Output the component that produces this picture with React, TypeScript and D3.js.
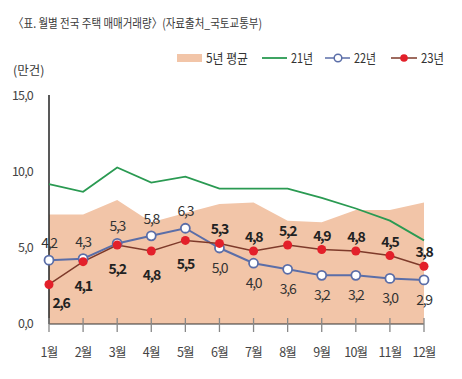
import React from "react";
import * as d3 from "d3";

const months = ["1월", "2월", "3월", "4월", "5월", "6월", "7월", "8월", "9월", "10월", "11월", "12월"];
const avg5 = [7.2, 7.2, 8.15, 6.7, 7.3, 7.9, 8.0, 6.8, 6.7, 7.5, 7.5, 8.0];
const y21 = [9.2, 8.7, 10.3, 9.3, 9.7, 8.9, 8.9, 8.9, 8.3, 7.6, 6.8, 5.5];
const y22 = [4.2, 4.3, 5.3, 5.8, 6.3, 5.0, 4.0, 3.6, 3.2, 3.2, 3.0, 2.9];
const y23 = [2.6, 4.1, 5.2, 4.8, 5.5, 5.3, 4.8, 5.2, 4.9, 4.8, 4.5, 3.8];
const yTicks = [0, 5, 10, 15];

const W = 462, H = 379;
const FONT = "'Noto Sans CJK KR', 'Noto Sans', sans-serif";
const C_AREA = "#f2c5a8";
const C_GREEN = "#2a9a52";
const C_BLUE = "#5b6ea8";
const C_RED = "#e3202a";
const C_BROWN = "#7e3a2a";

const fmt = (v: number) => v.toFixed(1).replace(".", ",");

export default function App() {
  const x = d3.scalePoint<string>().domain(months).range([49, 424]);
  const y = d3.scaleLinear().domain([0, 15]).range([324, 96]);
  const px = (i: number) => x(months[i]) as number;

  const area = d3.area<number>().x((_, i) => px(i)).y0(y(0)).y1((d) => y(d));
  const line = d3.line<number>().x((_, i) => px(i)).y((d) => y(d));

  return (
    <svg width={W} height={H} style={{ position: "absolute", left: 0, top: 0, background: "#fff" }} fontFamily={FONT}>
      <rect width={W} height={H} fill="#fff" />
      <text x={13} y={28} fontSize={12.5} fill="#3a3a3a" textLength={249} lengthAdjust="spacingAndGlyphs">
        〈표. 월별 전국 주택 매매거래량〉(자료출처_국토교통부)
      </text>
      <text x={13} y={75} fontSize={12.5} fill="#3a3a3a">(만건)</text>

      {/* legend */}
      <rect x={177} y={54} width={25} height={8} fill={C_AREA} />
      <text x={206} y={63} fontSize={13} fill="#333" textLength={42} lengthAdjust="spacingAndGlyphs">5년 평균</text>
      <line x1={262} x2={287} y1={58} y2={58} stroke={C_GREEN} strokeWidth={1.8} />
      <text x={291} y={63} fontSize={13} fill="#333" textLength={22} lengthAdjust="spacingAndGlyphs">21년</text>
      <line x1={325} x2={350} y1={58} y2={58} stroke={C_BLUE} strokeWidth={1.5} />
      <circle cx={338} cy={58} r={3.8} fill="#fff" stroke={C_BLUE} strokeWidth={1.5} />
      <text x={354} y={63} fontSize={13} fill="#333" textLength={22} lengthAdjust="spacingAndGlyphs">22년</text>
      <line x1={391} x2={417} y1={58} y2={58} stroke={C_BROWN} strokeWidth={1.5} />
      <circle cx={404} cy={58} r={3.8} fill={C_RED} />
      <text x={421} y={63} fontSize={13} fill="#333" textLength={23} lengthAdjust="spacingAndGlyphs">23년</text>

      {/* area */}
      <path d={area(avg5) || ""} fill={C_AREA} />

      {/* y ticks */}
      {yTicks.map((t) => (
        <text key={t} x={33} y={y(t) + 4} fontSize={12.5} fill="#444" textAnchor="end" letterSpacing={-0.8}>
          {fmt(t)}
        </text>
      ))}

      {/* axes */}
      <line x1={49} x2={49} y1={95} y2={324} stroke="#222" strokeWidth={1.5} />
      <line x1={49} x2={424} y1={324} y2={324} stroke="#333" strokeWidth={1.2} />
      {months.map((m, i) => (
        <g key={m}>
          <line x1={px(i)} x2={px(i)} y1={318} y2={332} stroke="#888" strokeWidth={1.3} />
          <text x={px(i)} y={357} fontSize={12.5} fill="#444" textAnchor="middle" letterSpacing={-0.8}>{m}</text>
        </g>
      ))}

      {/* lines */}
      <path d={line(y21) || ""} fill="none" stroke={C_GREEN} strokeWidth={1.8} />
      <path d={line(y22) || ""} fill="none" stroke={C_BLUE} strokeWidth={2} />
      <path d={line(y23) || ""} fill="none" stroke={C_BROWN} strokeWidth={1.5} />
      {y22.map((v, i) => (
        <circle key={"b" + i} cx={px(i)} cy={y(v)} r={4.5} fill="#fff" stroke={C_BLUE} strokeWidth={1.8} />
      ))}
      {y23.map((v, i) => (
        <circle key={"r" + i} cx={px(i)} cy={y(v)} r={4.5} fill={C_RED} />
      ))}

      {/* labels */}
      {y22.map((v, i) => {
        const above = v >= y23[i];
        return (
          <text key={"lb" + i} x={px(i)} y={y(v) + (above ? -17 : 20) + 5} fontSize={14} fill="#333"
            textAnchor="middle" letterSpacing={-1.3}>
            {fmt(v)}
          </text>
        );
      })}
      {y23.map((v, i) => {
        const above = v > y22[i];
        return (
          <text key={"lr" + i} x={px(i) + (i === 0 ? 12 : 0)} y={y(v) + (above ? -14 : (i === 0 ? 19 : 24)) + 5}
            fontSize={14} fontWeight="bold" fill="#222" textAnchor="middle" letterSpacing={-1.3}>
            {fmt(v)}
          </text>
        );
      })}
    </svg>
  );
}
